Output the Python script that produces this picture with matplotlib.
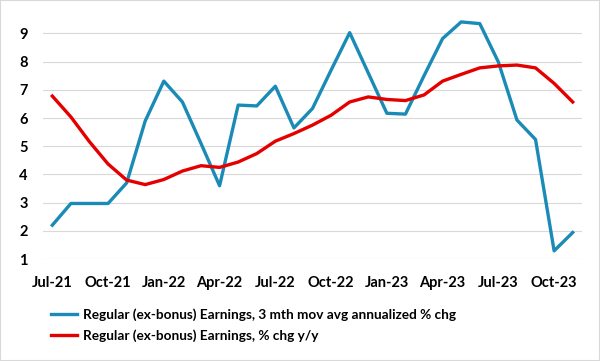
import matplotlib.pyplot as plt
from matplotlib.patches import Rectangle

plt.rcParams['font.family'] = ['Lato', 'DejaVu Sans']

meses = ['Jul-21', 'Aug-21', 'Sep-21', 'Oct-21', 'Nov-21', 'Dec-21',
         'Jan-22', 'Feb-22', 'Mar-22', 'Apr-22', 'May-22', 'Jun-22',
         'Jul-22', 'Aug-22', 'Sep-22', 'Oct-22', 'Nov-22', 'Dec-22',
         'Jan-23', 'Feb-23', 'Mar-23', 'Apr-23', 'May-23', 'Jun-23',
         'Jul-23', 'Aug-23', 'Sep-23', 'Oct-23', 'Nov-23']

mov_avg_3m = [2.2, 2.97, 2.97, 2.97, 3.7, 5.9, 7.31, 6.57, 5.1, 3.6,
              6.46, 6.43, 7.13, 5.65, 6.34, 7.7, 9.03, 7.6, 6.17, 6.14,
              7.5, 8.82, 9.41, 9.35, 7.99, 5.93, 5.24, 1.29, 1.94]

yoy = [6.78, 6.04, 5.16, 4.37, 3.8, 3.64, 3.82, 4.12, 4.31, 4.25,
       4.44, 4.74, 5.18, 5.45, 5.75, 6.1, 6.57, 6.75, 6.66, 6.62,
       6.82, 7.31, 7.55, 7.78, 7.85, 7.88, 7.78, 7.23, 6.57]

nombres = ['Regular (ex-bonus) Earnings, 3 mth mov avg annualized % chg',
           'Regular (ex-bonus) Earnings, % chg y/y']

fig = plt.figure(figsize=(6, 3.61), dpi=100)
ax = fig.add_axes([0.0717, 0.2825, 0.8983, 0.6755])

x = list(range(len(meses)))
ax.plot(x, mov_avg_3m, color='#1A8BB6', lw=2.4, label=nombres[0], zorder=3)
ax.plot(x, yoy, color='#E50000', lw=2.4, label=nombres[1], zorder=4)

ax.set_xlim(-0.5, len(meses) - 0.5)
ax.set_ylim(1, 9.65)
ax.set_yticks(range(1, 10))
ax.set_xticks(x[::3])
ax.set_xticklabels(meses[::3])
ax.grid(axis='y', color='#D9D9D9', lw=0.8)
ax.set_axisbelow(True)
for s in ax.spines.values():
    s.set_visible(False)
ax.tick_params(length=0, labelsize=10.5)
ax.tick_params(axis='x', pad=12)
ax.tick_params(axis='y', pad=11)
for t in ax.get_xticklabels() + ax.get_yticklabels():
    t.set_fontweight('bold')

fig.legend(loc='upper left', bbox_to_anchor=(0.074, 0.165), frameon=False,
           prop={'weight': 'bold', 'size': 9.8}, handlelength=1.9,
           handletextpad=0.4, labelspacing=0.6, borderpad=0)

fig.patches.append(Rectangle((0, 0), 1, 1, transform=fig.transFigure,
                             fill=False, edgecolor='#D9D9D9', lw=1.5))

fig.savefig('out.png', dpi=100)
